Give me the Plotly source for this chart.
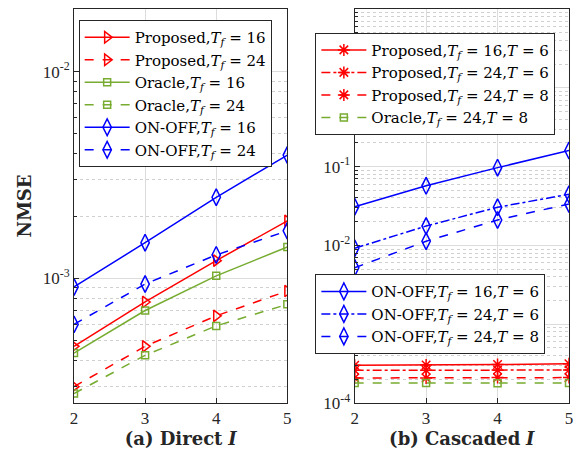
import plotly.graph_objects as go

I_vals = [2, 3, 4, 5]

# (a) Direct
prop_tf16 = [4.7e-4, 7.7e-4, 1.22e-3, 1.9e-3]
prop_tf24 = [3.0e-4, 4.7e-4, 6.6e-4, 8.7e-4]
orac_tf16 = [4.36e-4, 7.0e-4, 1.03e-3, 1.42e-3]
orac_tf24 = [2.78e-4, 4.25e-4, 5.9e-4, 7.5e-4]
onoff_tf16 = [9.1e-4, 1.49e-3, 2.47e-3, 3.95e-3]
onoff_tf24 = [6.0e-4, 9.4e-4, 1.30e-3, 1.70e-3]

# (b) Cascaded
c_prop_16_6 = [3.01e-4, 3.03e-4, 3.08e-4, 3.14e-4]
c_prop_24_6 = [2.6e-4, 2.6e-4, 2.62e-4, 2.62e-4]
c_prop_24_8 = [2.08e-4, 2.08e-4, 2.1e-4, 2.1e-4]
c_orac_24_8 = [1.8e-4, 1.8e-4, 1.78e-4, 1.8e-4]
c_on_16_6 = [3.1e-2, 5.7e-2, 9.7e-2, 0.16]
c_on_24_6 = [9.2e-3, 1.76e-2, 3.05e-2, 4.46e-2]
c_on_24_8 = [5.2e-3, 1.13e-2, 2.1e-2, 3.36e-2]

RED = "#FF0000"
GREEN = "#77AC30"
BLUE = "#0000FF"
FONT = "Liberation Serif"
WFONT = "DejaVu Serif"

TF = "<i>T<sub>f</sub></i>"
EQ = "&nbsp;=&nbsp;"


def tr(y, name, color, dash, symbol, xa, ya, legend, msize=10):
    return go.Scatter(
        x=I_vals, y=y, name=name, mode="lines+markers",
        line=dict(color=color, dash=dash, width=1.5),
        marker=dict(symbol=symbol, size=msize, color=color,
                    line=dict(color=color, width=1.5)),
        xaxis=xa, yaxis=ya, legend=legend,
    )


fig = go.Figure()
# left
fig.add_trace(tr(prop_tf16, f"Proposed,{TF}{EQ}16", RED, "solid", "triangle-right-open", "x", "y", "legend"))
fig.add_trace(tr(prop_tf24, f"Proposed,{TF}{EQ}24", RED, "dash", "triangle-right-open", "x", "y", "legend"))
fig.add_trace(tr(orac_tf16, f"Oracle,{TF}{EQ}16", GREEN, "solid", "square-open", "x", "y", "legend", 7))
fig.add_trace(tr(orac_tf24, f"Oracle,{TF}{EQ}24", GREEN, "dash", "square-open", "x", "y", "legend", 7))
fig.add_trace(tr(onoff_tf16, f"ON-OFF,{TF}{EQ}16", BLUE, "solid", "diamond-tall-open", "x", "y", "legend", 12))
fig.add_trace(tr(onoff_tf24, f"ON-OFF,{TF}{EQ}24", BLUE, "dash", "diamond-tall-open", "x", "y", "legend", 12))
# right
fig.add_trace(tr(c_prop_16_6, f"Proposed,{TF}{EQ}16,<i>T</i>{EQ}6", RED, "solid", "asterisk-open", "x2", "y2", "legend2", 10))
fig.add_trace(tr(c_prop_24_6, f"Proposed,{TF}{EQ}24,<i>T</i>{EQ}6", RED, "dashdot", "asterisk-open", "x2", "y2", "legend2", 10))
fig.add_trace(tr(c_prop_24_8, f"Proposed,{TF}{EQ}24,<i>T</i>{EQ}8", RED, "dash", "asterisk-open", "x2", "y2", "legend2", 10))
fig.add_trace(tr(c_orac_24_8, f"Oracle,{TF}{EQ}24,<i>T</i>{EQ}8", GREEN, "dash", "square-open", "x2", "y2", "legend2", 7))
fig.add_trace(tr(c_on_16_6, f"ON-OFF,{TF}{EQ}16,<i>T</i>{EQ}6", BLUE, "solid", "diamond-tall-open", "x2", "y2", "legend3", 12))
fig.add_trace(tr(c_on_24_6, f"ON-OFF,{TF}{EQ}24,<i>T</i>{EQ}6", BLUE, "dashdot", "diamond-tall-open", "x2", "y2", "legend3", 12))
fig.add_trace(tr(c_on_24_8, f"ON-OFF,{TF}{EQ}24,<i>T</i>{EQ}8", BLUE, "dash", "diamond-tall-open", "x2", "y2", "legend3", 12))

AX = "#262626"
GRID = "#DCDCDC"

xcommon = dict(
    range=[2, 5], tickvals=I_vals, ticktext=[str(v) for v in I_vals],
    showline=True, linecolor=AX, linewidth=1, mirror=True,
    ticks="inside", ticklen=5, tickcolor=AX,
    showgrid=True, gridcolor=GRID, gridwidth=1, zeroline=False,
    tickfont=dict(family=FONT, size=17, color=AX),
)


def minor_vals(lo, hi):
    out = []
    for e in range(lo, hi):
        for m in range(2, 10):
            out.append(m * 10 ** e)
    return out


ycommon = dict(
    type="log", showline=True, linecolor=AX, linewidth=1, mirror=True,
    ticks="inside", ticklen=5, tickcolor=AX,
    showgrid=True, gridcolor=GRID, gridwidth=1, zeroline=False,
    tickfont=dict(family=FONT, size=17, color=AX),
)

legend_common = dict(
    bgcolor="white", bordercolor=AX, borderwidth=1,
    font=dict(family=WFONT, size=15, color="black"),
    xanchor="left", yanchor="top", itemwidth=45, tracegroupgap=0,
    itemclick=False,
)

fig.update_layout(
    width=580, height=453,
    margin=dict(l=74, r=7, t=9, b=50),
    paper_bgcolor="white", plot_bgcolor="white",
    showlegend=True,
    xaxis=dict(domain=[0, 0.431], anchor="y", **xcommon,
               title=dict(text="<b>(a) Direct</b> <i><b>I</b></i>", standoff=2,
                          font=dict(family=WFONT, size=18, color=AX))),
    xaxis2=dict(domain=[0.567, 1], anchor="y2", **xcommon,
                title=dict(text="<b>(b) Cascaded</b> <i><b>I</b></i>", standoff=2,
                           font=dict(family=WFONT, size=18, color=AX))),
    yaxis=dict(domain=[0, 1], anchor="x", range=[-3.602, -1.697],
               tickvals=[1e-3, 1e-2], ticktext=["10<sup>-3</sup>", "10<sup>-2</sup>"],
               minor=dict(tickvals=minor_vals(-4, -1), showgrid=True, griddash="dot",
                          gridcolor="#D0D0D0", ticks="inside", ticklen=3, tickcolor=AX),
               title=dict(text="<b>NMSE</b>", standoff=6,
                          font=dict(family=WFONT, size=18, color=AX)),
               **ycommon),
    yaxis2=dict(domain=[0, 1], anchor="x2", range=[-4, 1],
                tickvals=[1e-4, 1e-3, 1e-2, 1e-1, 1],
                ticktext=["10<sup>-4</sup>", "10<sup>-3</sup>", "10<sup>-2</sup>", "10<sup>-1</sup>", "10<sup>0</sup>"],
                minor=dict(tickvals=minor_vals(-4, 1), showgrid=True, griddash="dot",
                           gridcolor="#D0D0D0", ticks="inside", ticklen=3, tickcolor=AX),
                **ycommon),
    legend=dict(x=0.0094, y=0.972, **legend_common),
    legend2=dict(x=0.4876, y=0.940, **legend_common),
    legend3=dict(x=0.4876, y=0.327, **legend_common),
)

fig.write_html("out.html", config={"displayModeBar": False},
               post_script="document.body.style.margin='0';")
